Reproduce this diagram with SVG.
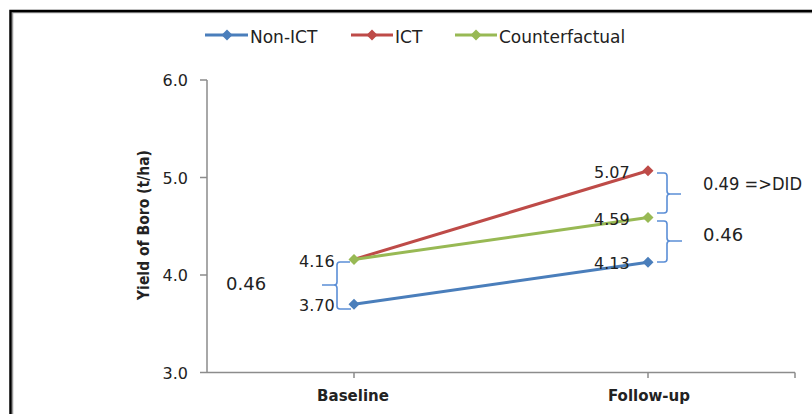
<svg xmlns="http://www.w3.org/2000/svg" width="812" height="414" viewBox="0 0 812 414">
<style>
text{font-family:"DejaVu Sans","Liberation Sans",sans-serif;fill:#222}
.tick{font-size:16px;text-anchor:end}
.leg{font-size:17px}
.cat{font-size:15px;font-weight:bold;text-anchor:middle}
.dl{font-size:16px}
.ann{font-size:18px}
.axis{stroke:#8c8c8c;stroke-width:1.5;fill:none}
.brace{stroke:#5b8ed6;stroke-width:1.6;fill:none}
.s1{stroke:#4a7ebb;stroke-width:3;fill:none}
.s2{stroke:#be4b48;stroke-width:3;fill:none}
.s3{stroke:#98b954;stroke-width:3;fill:none}
</style>
<defs>
<path id="dia" d="M0,-5.5 L5.5,0 L0,5.5 L-5.5,0 Z"/>
</defs>
<rect width="812" height="414" fill="#fff"/>
<path d="M12.5,414 V12.5 H812" stroke="#999" stroke-width="1.5" fill="none"/>
<path d="M10.5,414 V11 H812" stroke="#000" stroke-width="2.5" fill="none"/>

<g id="legend">
<line x1="205" y1="35" x2="248" y2="35" class="s1"/><use href="#dia" x="227" y="35" fill="#4a7ebb"/>
<text class="leg" x="250" y="43">Non-ICT</text>
<line x1="351" y1="35" x2="393" y2="35" class="s2"/><use href="#dia" x="372" y="35" fill="#be4b48"/>
<text class="leg" x="395" y="43">ICT</text>
<line x1="455" y1="35" x2="497" y2="35" class="s3"/><use href="#dia" x="476" y="35" fill="#98b954"/>
<text class="leg" x="499" y="43">Counterfactual</text>
</g>

<g id="axes">
<path class="axis" d="M207,80 V372.5 H795 M200,80 H207 M200,177.5 H207 M200,275 H207 M200,372.5 H207 M354,372.5 V378 M648,372.5 V378 M795,372.5 V378"/>
<text class="tick" x="188" y="86">6.0</text>
<text class="tick" x="188" y="183.5">5.0</text>
<text class="tick" x="188" y="281">4.0</text>
<text class="tick" x="188" y="378.5">3.0</text>
<text class="cat" x="353" y="401">Baseline</text>
<text class="cat" x="649" y="401">Follow-up</text>
<text class="cat" transform="translate(149,225) rotate(-90)" style="font-size:15.5px" textLength="150" lengthAdjust="spacingAndGlyphs">Yield of Boro (t/ha)</text>
</g>

<g id="connectors">
<polyline id="non-ict" class="s1" points="354,304.3 648,262.3"/>
<polyline id="ict" class="s2" points="354,259.4 648,170.7"/>
<polyline id="counterfactual" class="s3" points="354,259.4 648,217.5"/>
</g>

<g id="markers">
<use href="#dia" x="354" y="304.3" fill="#4a7ebb"/>
<use href="#dia" x="648" y="262.3" fill="#4a7ebb"/>
<use href="#dia" x="648" y="170.7" fill="#be4b48"/>
<use href="#dia" x="354" y="259.4" fill="#98b954"/>
<use href="#dia" x="648" y="217.5" fill="#98b954"/>
</g>

<g id="data-labels">
<text class="dl" x="299" y="267">4.16</text>
<text class="dl" x="299" y="311">3.70</text>
<text class="dl" x="594" y="178">5.07</text>
<text class="dl" x="594" y="225">4.59</text>
<text class="dl" x="594" y="269">4.13</text>
</g>

<g id="braces">
<path class="brace" d="M350,262 H340 Q337,262 337,265 V282 Q337,285 334,285 H322 M334,285 Q337,285 337,288 V306 Q337,309 340,309 H351"/>
<path class="brace" d="M657,173 H664 Q667,173 667,176 V191 Q667,194 670,194 H681 M670,194 Q667,194 667,197 V210 Q667,213 664,213 H657"/>
<path class="brace" d="M657,221 H664 Q667,221 667,224 V238 Q667,241 670,241 H682 M670,241 Q667,241 667,244 V259 Q667,262 664,262 H657"/>
</g>

<g id="annotations">
<text class="ann" x="226" y="290">0.46</text>
<text class="ann" x="703" y="190" textLength="99" lengthAdjust="spacingAndGlyphs">0.49 =&gt;DID</text>
<text class="ann" x="703" y="241">0.46</text>
</g>
</svg>
